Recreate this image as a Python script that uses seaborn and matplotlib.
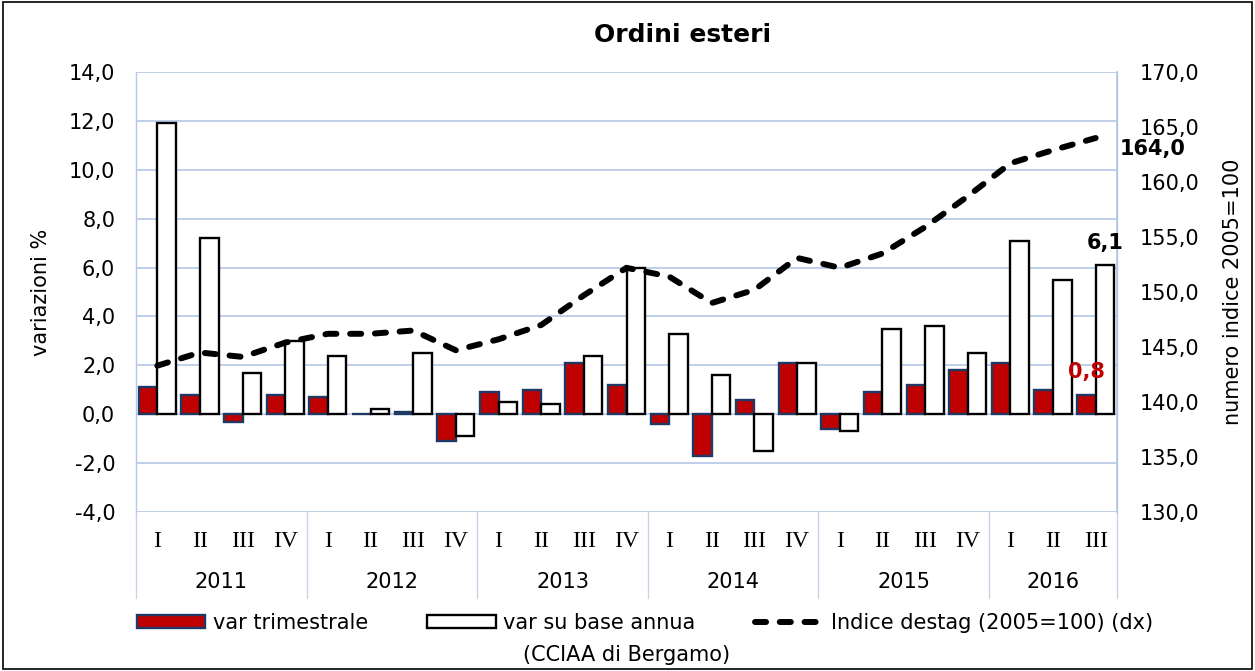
import numpy as np
import pandas as pd
import matplotlib
matplotlib.use("Agg")
import matplotlib.pyplot as plt
import matplotlib.transforms as mtransforms
from matplotlib.patches import Patch, Rectangle
from matplotlib.lines import Line2D
import seaborn as sns

# ---------------- data ----------------
years = ["2011", "2012", "2013", "2014", "2015", "2016"]
quarters_per_year = [4, 4, 4, 4, 4, 3]
quarter_labels = ["I", "II", "III", "IV"] * 5 + ["I", "II", "III"]

var_trimestrale = [1.1, 0.8, -0.3, 0.8,
                   0.7, 0.0, 0.1, -1.1,
                   0.9, 1.0, 2.1, 1.2,
                   -0.4, -1.7, 0.6, 2.1,
                   -0.6, 0.9, 1.2, 1.8,
                   2.1, 1.0, 0.8]
var_annua = [11.9, 7.2, 1.7, 3.0,
             2.4, 0.2, 2.5, -0.9,
             0.5, 0.4, 2.4, 6.0,
             3.3, 1.6, -1.5, 2.1,
             -0.7, 3.5, 3.6, 2.5,
             7.1, 5.5, 6.1]
indice = [143.3, 144.5, 144.1, 145.4,
          146.2, 146.2, 146.5, 144.7,
          145.7, 147.0, 149.7, 152.2,
          151.4, 149.0, 150.2, 153.1,
          152.2, 153.5, 155.9, 158.7,
          161.7, 162.9, 164.0]

series_names = ["var trimestrale", "var su base annua", "Indice destag (2005=100) (dx)"]
title = "Ordini esteri"
source = "(CCIAA di Bergamo)"

# ---------------- style ----------------
sns.set_theme(style="white")
plt.rcParams["font.family"] = ["DejaVu Sans"]
for k in ["text.color", "axes.labelcolor", "xtick.color", "ytick.color"]:
    plt.rcParams[k] = "black"

RED = "#c00000"
NAVY = "#1f3864"
GRID = "#b4c7e7"
FS = 15
LW = 4.3
DASH = (1.85, 2.3)

n = len(var_trimestrale)
cats = [f"{i}" for i in range(n)]
df = pd.DataFrame({
    "cat": cats * 2,
    "val": var_trimestrale + var_annua,
    "serie": [series_names[0]] * n + [series_names[1]] * n,
})

fig = plt.figure(figsize=(12.55, 6.71), dpi=100)
ax = fig.add_axes([136 / 1255, 1 - 512 / 671, (1117 - 136) / 1255, (512 - 72) / 671])

sns.barplot(data=df, x="cat", y="val", hue="serie", order=cats,
            hue_order=series_names[:2], palette=[RED, "white"],
            width=0.87, ax=ax, legend=False, saturation=1)
edge_cols = [NAVY, "black"]
for cont, ec in zip(ax.containers, edge_cols):
    for p in cont:
        p.set_edgecolor(ec)
        p.set_linewidth(1.7)

ax.set_axisbelow(True)
ax.set_ylim(-4, 14)
lt = np.arange(-4, 14.1, 2)
ax.set_yticks(lt)
ax.set_yticklabels([f"{v:.1f}".replace(".", ",") for v in lt], fontsize=FS)
ax.grid(axis="y", color=GRID, linewidth=1.2)
ax.grid(axis="x", visible=False)
ax.tick_params(axis="y", length=0, pad=15)
ax.tick_params(axis="x", length=0, pad=14)
ax.set_xticks(range(n))
ax.set_xticklabels(quarter_labels, fontfamily="Liberation Serif", fontsize=17)
ax.set_xlabel("")
ax.set_ylabel("variazioni %", fontsize=FS, labelpad=13)
for s in ["top", "bottom"]:
    ax.spines[s].set_visible(False)
for s in ["left", "right"]:
    ax.spines[s].set_color(GRID)
    ax.spines[s].set_linewidth(1.0)

# secondary axis with line
ax2 = ax.twinx()
sns.lineplot(x=np.arange(n), y=indice, ax=ax2, color="black", linewidth=LW,
             linestyle="--", legend=False)
ln = ax2.lines[0]
ln.set_dashes(DASH)
ln.set_dash_capstyle("round")
ax2.set_ylim(130, 170)
rt = np.arange(130, 170.1, 5)
ax2.set_yticks(rt)
ax2.set_yticklabels([f"{v:.1f}".replace(".", ",") for v in rt], fontsize=FS)
ax2.tick_params(axis="y", length=0, pad=16)
ax2.set_ylabel("numero indice 2005=100", fontsize=FS, labelpad=17)
ax2.grid(False)
for s in ["top", "bottom", "left"]:
    ax2.spines[s].set_visible(False)
ax2.spines["right"].set_color(GRID)
ax.set_xlim(-0.5, n - 0.5)

# year labels and separators
trans = mtransforms.blended_transform_factory(ax.transData, ax.transAxes)
start = 0
bounds = [-0.5]
for y, q in zip(years, quarters_per_year):
    center = start + (q - 1) / 2
    ax.text(center, -70 / 440, y, transform=trans, ha="center", va="center", fontsize=FS)
    start += q
    bounds.append(start - 0.5)
for b in bounds:
    ax.plot([b, b], [0, -86 / 440], transform=trans, color="#c9d3e3",
            linewidth=1.0, clip_on=False)

# data labels (on top axis so nothing covers them)
off = 0.87 / 4
t = ax.transData
ax2.annotate(f"{var_annua[-1]:.1f}".replace(".", ","), xy=(n - 1 + off, var_annua[-1]),
             xycoords=t, xytext=(0, 16), textcoords="offset points", ha="center",
             va="center", fontsize=FS, fontweight="bold", color="black",
             zorder=10, annotation_clip=False)
ax2.annotate(f"{var_trimestrale[-1]:.1f}".replace(".", ","), xy=(n - 1 - off, var_trimestrale[-1]),
             xycoords=t, xytext=(0, 16), textcoords="offset points", ha="center",
             va="center", fontsize=FS, fontweight="bold", color=RED,
             zorder=10, annotation_clip=False)
ax2.annotate(f"{indice[-1]:.1f}".replace(".", ","), xy=(n - 1, indice[-1]),
             xytext=(41, -8), textcoords="offset points", ha="center", va="center",
             fontsize=FS, fontweight="bold", color="black", zorder=10,
             annotation_clip=False)

# title
fig.text(683 / 1255, 1 - 35 / 671, title, ha="center", va="center",
         fontsize=18, fontweight="bold")

# legend
handles = [Patch(facecolor=RED, edgecolor=NAVY, linewidth=1.7),
           Patch(facecolor="white", edgecolor="black", linewidth=1.7),
           Line2D([0], [0], color="black", linewidth=LW, linestyle=(0, DASH),
                  dash_capstyle="round")]
fig.legend(handles, series_names, loc="center", bbox_to_anchor=(645 / 1255, 1 - 623 / 671),
           ncol=3, frameon=False, fontsize=FS, handlelength=3.27, handleheight=0.63,
           handletextpad=0.38, columnspacing=2.85)
fig.text(627 / 1255, 1 - 655 / 671, source, ha="center", va="center", fontsize=FS)

# outer border
fig.patches.append(Rectangle((0.002, 0.003), 0.996, 0.994, transform=fig.transFigure,
                             fill=False, edgecolor="black", linewidth=1.2))

fig.savefig("out.png", dpi=100)
